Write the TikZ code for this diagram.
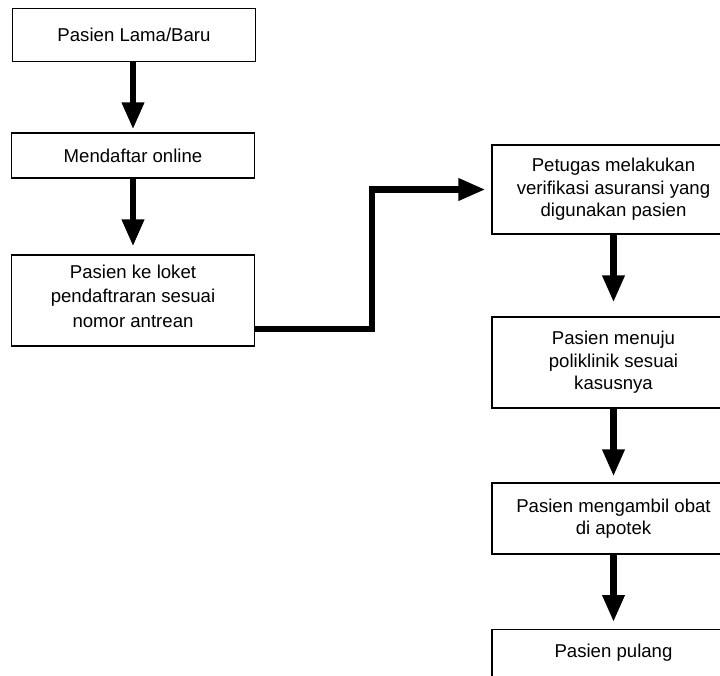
\documentclass[tikz,border=0pt]{standalone}
\usepackage{fontspec}
\setmainfont{Liberation Sans}
\usetikzlibrary{arrows.meta,positioning}

\begin{document}
\begin{tikzpicture}[
    x=1pt,y=-1pt,
    font=\fontsize{18.6}{22.5}\selectfont,
    box/.style={draw,line width=1.2pt,minimum width=243pt,align=center,inner sep=0pt},
    arr/.style={-{Triangle[width=21pt,length=27pt]},line width=6.5pt},
  ]
  \useasboundingbox (0,0) rectangle (720,675);

  % left column
  \node[box,minimum height=53pt] (lama) at (134,35) {Pasien Lama/Baru};
  \node[box,minimum height=45pt] (daftar) at (133,155.5) {Mendaftar online};
  \node[box,minimum height=91pt,text depth=9pt] (loket) at (133,300.5)
    {Pasien ke loket\\[2pt]pendaftraran sesuai\\[2pt]nomor antrean};
  \draw[arr,shorten >=3pt] (lama.south -| daftar) -- (daftar);
  \draw[arr,shorten >=8pt] (daftar) -- (loket);

  % right column
  \node[box,minimum height=89pt] (verif) at (613.5,189.5)
    {Petugas melakukan\\verifikasi asuransi yang\\digunakan pasien};
  \node[box,minimum height=91pt] (poli) at (613.5,362.5)
    {Pasien menuju\\poliklinik sesuai\\kasusnya};
  \node[box,minimum height=71pt] (obat) at (613.5,518.5)
    {Pasien mengambil obat\\di apotek};
  \node[box,anchor=north,text height=28pt,text depth=40pt] (pulang) at (613.5,629)
    {Pasien pulang};
  \draw[arr,shorten >=6pt] ([yshift=-28.5pt]loket.east) -- ++(117,0) |- (verif.west);
  \draw[arr,shorten >=14pt] (verif) -- (poli);
  \draw[arr,shorten >=6pt] (poli) -- (obat);
  \draw[arr,shorten >=7pt] (obat) -- (pulang);
\end{tikzpicture}
\end{document}
